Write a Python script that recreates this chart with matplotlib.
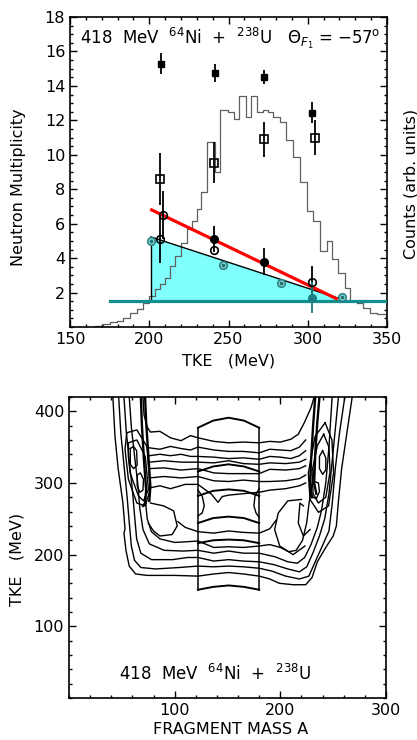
import matplotlib
matplotlib.use("Agg")
import matplotlib.pyplot as plt
from matplotlib.ticker import MultipleLocator, FixedLocator
import numpy as np

plt.rcParams['font.family'] = 'DejaVu Sans'
plt.rcParams['mathtext.fontset'] = 'dejavusans'

# ---------------- top panel data ----------------
# TKE histogram (right axis, arb. units) - bin starts and levels
hist_tke = [166.0, 171.0, 175.2, 179.5, 183.6, 187.9, 192.1, 196.2, 200.0, 203.6,
            206.8, 209.9, 213.1, 216.2, 219.8, 223.6, 226.8, 229.9, 232.5, 236.4,
            241.2, 244.6, 249.4, 253.5, 256.8, 261.0, 264.0, 268.2, 272.0, 275.1,
            278.3, 282.5, 286.1, 290.9, 295.1, 299.3, 303.5, 307.7, 312.0, 315.1,
            319.3, 323.5, 326.7, 330.9, 335.0, 339.3, 343.5, 349.5]
hist_cnt = [0.05, 0.15, 0.28, 0.34, 0.54, 0.83, 1.06, 1.41, 1.79, 2.18,
            2.47, 2.86, 3.54, 4.12, 4.90, 5.68, 6.16, 6.84, 7.85, 10.72,
            9.0, 12.6, 12.47, 12.06, 13.43, 12.18, 13.43, 12.47, 12.62, 12.47,
            12.18, 11.9, 10.88, 9.85, 8.4, 6.74, 6.16, 4.41, 5.0, 3.93,
            3.15, 2.28, 1.5, 1.41, 1.12, 0.83, 0.73, 0.63]

# filled squares
fsq_tke = [207.4, 241.5, 272.6, 302.5]
fsq_m = [15.3, 14.75, 14.5, 12.45]
fsq_err = [0.6, 0.55, 0.4, 0.6]

# open squares
osq_tke = [207.0, 241.0, 272.6, 304.8]
osq_m = [8.6, 9.55, 10.9, 11.0]
osq_err = [1.5, 1.2, 1.0, 1.0]

# open black circles
oci_tke = [208.5, 207.0, 241.0, 302.5]
oci_m = [6.5, 5.1, 4.5, 2.63]
oci_err = [1.4, 1.4, 0.0, 0.9]

# filled black circles
fci_tke = [241.0, 272.6]
fci_m = [5.1, 3.8]
fci_err = [0.75, 0.8]

# teal circles
tci_tke = [201.0, 246.3, 283.0, 321.4]
tci_m = [5.0, 3.6, 2.53, 1.76]
tfi_tke = [302.5]
tfi_m = [1.7]
tfi_err = [0.9]

# lines
red_tke = [201.5, 318.0]
red_m = [6.8, 1.65]
tri_tke = [201.0, 201.0, 325.0]
tri_m = [1.5, 5.23, 1.5]
base_tke = [175.0, 349.0]
base_m = [1.5, 1.5]

# ---------------- bottom panel data (contour lines, A vs TKE) ----------------
lower_1 = [(41.5, 420), (43.5, 365), (46.5, 320), (51, 272), (53, 236), (52, 230), (54, 205),
           (57, 184), (63, 173), (74, 171), (100, 171), (122, 170), (137, 173), (151, 175),
           (165, 173), (180, 170), (190, 166), (199, 160), (212, 158), (224, 158), (230, 168),
           (235, 190), (243, 210), (250, 226), (253, 240), (255, 275), (258, 320), (263, 370),
           (268, 420)]
lower_2 = [(47, 420), (49, 370), (52, 325), (55, 280), (57, 245), (59, 212), (62, 192), (68, 182),
           (82, 180), (104, 182), (122, 184), (137, 183), (151, 184), (165, 183), (180, 181),
           (192, 177), (205, 170), (218, 166), (227, 170), (233, 190), (240, 213), (246, 233),
           (249, 270), (252, 320), (256, 370), (261, 420)]
lower_3 = [(52, 420), (54, 375), (57, 330), (60, 290), (62, 255), (64, 222), (68, 202), (78, 193),
           (98, 193), (112, 196), (122, 196), (137, 191), (151, 193), (165, 191), (180, 190),
           (194, 186), (207, 180), (218, 176), (225, 183), (231, 203), (237, 226), (242, 250),
           (246, 285), (249, 330), (252, 375), (255, 420)]
lower_4 = [(57, 420), (59, 378), (62, 338), (65, 300), (67, 265), (70, 235), (76, 215), (90, 206),
           (108, 205), (122, 206), (137, 202), (151, 205), (165, 202), (180, 202), (195, 197),
           (207, 190), (216, 188), (223, 196), (229, 214), (235, 238), (239, 262), (243, 300),
           (246, 350), (249, 420)]
lower_5 = [(72, 280), (74, 250), (78, 232), (86, 222), (100, 217), (112, 218), (122, 219),
           (137, 210), (151, 211), (165, 210), (180, 212), (190, 214), (200, 210), (208, 204),
           (215, 206), (221, 220), (225, 245), (227, 270), (230, 300), (232, 320)]
lower_6 = [(103, 246), (110, 238), (122, 232), (137, 230), (151, 233), (165, 231), (180, 230),
           (190, 236), (196, 248)]

upper_1 = [(70, 420), (71, 395), (74, 378), (77, 371), (86, 372), (96, 363), (106, 359), (115, 366),
           (122, 363), (137, 358), (151, 356), (165, 357), (180, 356), (190, 358), (200, 357),
           (210, 361), (217, 368), (223, 385), (229, 405), (232, 420)]
upper_2 = [(76, 349), (86, 347), (96, 351), (106, 348), (115, 346), (122, 350), (137, 346),
           (151, 344), (165, 344), (180, 342), (190, 347), (200, 346), (210, 345), (218, 350),
           (224, 360)]
upper_3 = [(76, 338), (86, 340), (96, 338), (106, 340), (115, 337), (122, 337), (137, 336),
           (151, 334), (165, 335), (180, 333), (190, 337), (200, 336), (210, 334), (218, 338),
           (224, 345)]
upper_4 = [(76, 329), (90, 331), (106, 329), (122, 329), (137, 328), (151, 331), (165, 327),
           (180, 326), (190, 328), (205, 327), (218, 329), (224, 333)]
upper_5 = [(76, 320), (90, 321), (106, 318), (122, 320), (137, 314), (151, 313), (165, 313),
           (180, 313), (190, 319), (205, 318), (218, 320), (224, 324)]
upper_6 = [(76, 307), (90, 309), (106, 307), (122, 309), (137, 303), (151, 302), (165, 304),
           (180, 302), (190, 302), (205, 303), (218, 306), (224, 311)]
upper_7 = [(76, 293), (86, 296), (96, 292), (110, 298), (122, 298), (135, 284), (141, 273),
           (145, 281), (151, 283), (165, 285), (180, 287), (190, 290), (205, 292), (218, 296),
           (224, 300)]

# band edges and ovals
band_left_in = [(68, 420), (69, 380), (71, 330), (73, 290), (72, 272), (70, 268)]
band_left_in2 = [(72, 420), (73, 385), (75, 340), (77, 295), (76, 275)]
band_right_in = [(233, 420), (231, 380), (229, 330), (228, 295), (230, 280)]
band_right_in2 = [(237, 420), (235, 385), (233, 340), (232, 300), (234, 285)]
oval_left_1 = [(54.6, 370), (64.2, 374), (73.7, 351), (76.9, 291), (72.1, 268), (64.2, 272),
               (56.2, 305), (53, 347), (54.6, 370)]
oval_left_2 = [(56.2, 356), (64.2, 360), (72.1, 337), (75.2, 291), (70.5, 275), (65.7, 282),
               (57.8, 314), (56.2, 337), (56.2, 356)]
oval_left_3 = [(58, 348), (61, 351), (64, 345), (64.5, 325), (61, 320), (58, 326), (58, 348)]
oval_left_4 = [(64.5, 311), (67.5, 314), (70.5, 305), (70, 290), (67, 287), (64.5, 296), (64.5, 311)]
oval_right_1 = [(242.4, 384), (248.8, 360), (250.4, 314), (245.6, 268), (236.1, 259), (228.1, 277),
                (226.5, 314), (232.9, 365), (242.4, 384)]
oval_right_2 = [(241, 368), (246, 350), (247, 315), (243, 280), (236, 272), (231, 285),
                (230, 316), (235, 352), (241, 368)]
oval_right_3 = [(232, 302), (236, 300), (237, 288), (234, 278), (230, 281), (229, 292), (232, 302)]
oval_right_4 = [(240, 345), (243, 335), (243, 318), (240, 312), (237, 320), (237, 337), (240, 345)]

island_left = [(75, 244), (80, 233), (86, 226), (97.6, 228), (102.4, 240), (99, 261), (89.5, 268),
               (77, 272)]
island_right_1 = [(220, 277), (207, 275), (198, 258), (194.6, 235), (199.4, 212), (212.1, 200),
                  (223.3, 212)]
island_right_2 = [(221.8, 268), (218.5, 272), (217, 244), (221.8, 226), (228.1, 235)]
lobe_box_left = [(122, 290), (126, 282), (128, 268), (126, 258), (122, 254)]
lobe_box_right = [(180, 292), (176, 282), (175, 268), (177, 258), (180, 252)]

# central gate (box) and its arcs
gate_a = [122, 136.5, 151, 165.5, 180]
gate_top = [377, 387, 391, 387, 377]
gate_arc_1 = [316, 323, 326, 323, 316]
gate_arc_2 = [282, 289, 291, 289, 282]
gate_arc_3 = [244, 251, 253, 251, 244]
gate_arc_4 = [216, 220, 221, 220, 216]
gate_bottom = [151, 155, 157, 155, 151]

# ---------------- figure ----------------
fig = plt.figure(figsize=(4.17, 7.40), dpi=100)

ax1 = fig.add_axes([0.1679, 0.5581, 0.7602, 0.4189])
ax1.fill(tri_tke, tri_m, color='#80ffff', zorder=1, lw=0)
ax1.step(hist_tke, hist_cnt, where='post', color='#606060', lw=0.9, zorder=2)
ax1.plot(tri_tke[:2], tri_m[:2], color='black', lw=1.0, zorder=3)
ax1.plot(tri_tke[1:], tri_m[1:], color='black', lw=1.0, zorder=3)
ax1.plot(base_tke, base_m, color='#108f8f', lw=2.3, zorder=4)
ax1.plot(red_tke, red_m, color='red', lw=2.3, zorder=5)

ax1.errorbar(fsq_tke, fsq_m, yerr=fsq_err, fmt='s', color='black', ms=5, elinewidth=1.3, capsize=0, zorder=6)
ax1.errorbar(osq_tke, osq_m, yerr=osq_err, fmt='s', color='black', mfc='none', mew=1.2, ms=5.5,
             elinewidth=1.3, capsize=0, zorder=6)
ax1.errorbar(oci_tke, oci_m, yerr=oci_err, fmt='o', color='black', mfc='none', mew=1.2, ms=5.5,
             elinewidth=1.3, capsize=0, zorder=6)
ax1.errorbar(fci_tke, fci_m, yerr=fci_err, fmt='o', color='black', ms=5.5, elinewidth=1.3,
             capsize=0, zorder=6)
ax1.plot(tci_tke, tci_m, 'o', mec='#2a8080', mfc='#7fcfcf', mew=1.1, ms=5.5, zorder=6)
ax1.plot(tci_tke, tci_m, '.', color='#1f6f6f', ms=3, zorder=7)
ax1.errorbar(tfi_tke, tfi_m, yerr=tfi_err, fmt='o', color='#1a8080', ms=5.5, elinewidth=1.3,
             capsize=0, zorder=6)

ax1.set_xlim(150, 350)
ax1.set_ylim(0, 18)
ax1.xaxis.set_major_locator(MultipleLocator(50))
ax1.xaxis.set_minor_locator(MultipleLocator(10))
ax1.yaxis.set_major_locator(FixedLocator([2, 4, 6, 8, 10, 12, 14, 16, 18]))
ax1.yaxis.set_minor_locator(MultipleLocator(0.5))
ax1.set_xlabel('TKE   (MeV)', fontsize=11.5, labelpad=5)
ax1.set_ylabel('Neutron Multiplicity', fontsize=11.5)
ax1.yaxis.set_label_coords(-0.14, 0.45)
ax1.text(1.075, 0.46, 'Counts (arb. units)', transform=ax1.transAxes, rotation=90,
         ha='center', va='center', fontsize=11.5)
ax1.text(0.03, 0.93, r'418  MeV  $^{64}$Ni  +  $^{238}$U   $\Theta_{F_1}$ = $-$57$^{\rm o}$',
         transform=ax1.transAxes, ha='left', va='center', fontsize=12)

ax2 = fig.add_axes([0.1655, 0.0568, 0.7602, 0.4068])
contours = [lower_1, lower_2, lower_3, lower_4, lower_5, lower_6,
            upper_1, upper_2, upper_3, upper_4, upper_5, upper_6, upper_7,
            oval_left_1, oval_left_2, oval_left_3, oval_left_4,
            oval_right_1, oval_right_2, oval_right_3, oval_right_4,
            island_left, island_right_1, island_right_2, lobe_box_left, lobe_box_right]
for c in contours:
    a, t = zip(*c)
    ax2.plot(a, t, color='black', lw=1.0)
for c in [band_left_in, band_left_in2, band_right_in, band_right_in2]:
    a, t = zip(*c)
    ax2.plot(a, t, color='black', lw=1.7)
for arc in [gate_top, gate_arc_1, gate_arc_2, gate_arc_3, gate_arc_4, gate_bottom]:
    ax2.plot(gate_a, arc, color='black', lw=1.4)
ax2.plot([gate_a[0], gate_a[0]], [gate_bottom[0], gate_top[0]], color='black', lw=1.1)
ax2.plot([gate_a[-1], gate_a[-1]], [gate_bottom[-1], gate_top[-1]], color='black', lw=1.1)

ax2.set_xlim(0, 300)
ax2.set_ylim(0, 420)
ax2.xaxis.set_major_locator(FixedLocator([100, 200, 300]))
ax2.xaxis.set_minor_locator(MultipleLocator(20))
ax2.yaxis.set_major_locator(FixedLocator([100, 200, 300, 400]))
ax2.yaxis.set_minor_locator(MultipleLocator(20))
ax2.set_xlabel('FRAGMENT MASS A', fontsize=11.5, labelpad=5)
ax2.xaxis.set_label_coords(0.51, -0.08)
ax2.set_ylabel('TKE   (MeV)', fontsize=11.5)
ax2.yaxis.set_label_coords(-0.14, 0.46)
ax2.text(0.46, 0.08, r'418  MeV  $^{64}$Ni  +  $^{238}$U', transform=ax2.transAxes,
         ha='center', va='center', fontsize=12)

for ax in (ax1, ax2):
    for s in ax.spines.values():
        s.set_linewidth(1.2)
    ax.tick_params(which='both', direction='in', top=True, right=True, labelsize=11.5, width=1.0)
    ax.tick_params(which='major', length=5)
    ax.tick_params(which='minor', length=2.5)

fig.savefig('out.png', dpi=100)
